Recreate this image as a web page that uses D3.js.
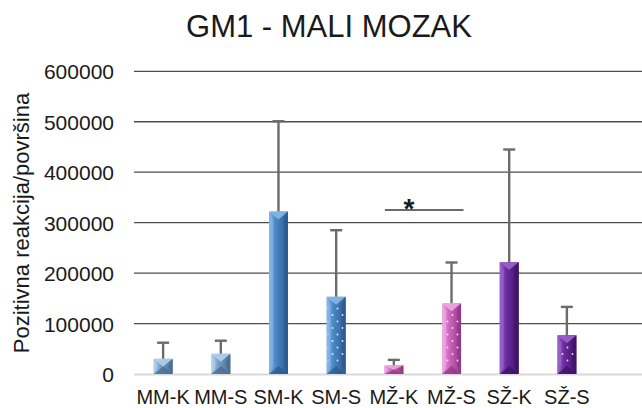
<!DOCTYPE html>
<html>
<head>
<meta charset="utf-8">
<script src="https://cdn.jsdelivr.net/npm/d3@7"></script>
<style>
  html, body { margin: 0; padding: 0; background: #fff; }
  svg { display: block; font-family: "Liberation Sans", Arial, sans-serif; }
</style>
</head>
<body>
<svg id="chart" width="642" height="408"></svg>
<script>
// ---- data ----
const categories = ["MM-K", "MM-S", "SM-K", "SM-S", "MŽ-K", "MŽ-S", "SŽ-K", "SŽ-S"];
const means      = [30000, 40000, 322000, 153000, 17000, 140000, 222000, 77000];
const errorTops  = [62000, 66000, 501000, 285000, 28000, 221000, 445000, 133000];
const groups     = ["MM", "MM", "SM", "SM", "MŽ", "MŽ", "SŽ", "SŽ"];
const dotted     = [false, true, false, true, false, true, false, true];
const yTicks     = [0, 100000, 200000, 300000, 400000, 500000, 600000];
const sigFrom = "MŽ-K", sigTo = "MŽ-S", sigLevel = 325000, sigLabel = "*";
const titleText = "GM1 - MALI MOZAK";
const yTitle = "Pozitivna reakcija/površina";

// ---- styles ----
const palette = {
  "MM": {base: "#76a0ca", light: "#b4d0ec", dark: "#4a6d93"},
  "SM": {base: "#4a87c7", light: "#86b7e6", dark: "#2b5c92"},
  "MŽ": {base: "#d068c0", light: "#eeaae3", dark: "#933a86"},
  "SŽ": {base: "#6a2a9e", light: "#9a62cc", dark: "#3f1466"}
};

const svg = d3.select("#chart");
const defs = svg.append("defs");

const pat = defs.append("pattern").attr("id", "dots")
  .attr("patternUnits", "userSpaceOnUse").attr("width", 10).attr("height", 13);
pat.append("circle").attr("cx", 2.5).attr("cy", 3).attr("r", 0.9).attr("fill", "#fff").attr("opacity", 0.85);
pat.append("circle").attr("cx", 7.5).attr("cy", 9.5).attr("r", 0.9).attr("fill", "#fff").attr("opacity", 0.85);

Object.entries(palette).forEach(([k, c], i) => {
  const g = defs.append("linearGradient").attr("id", "grad" + i)
    .attr("x1", "0").attr("x2", "1").attr("y1", "0").attr("y2", "0");
  g.append("stop").attr("offset", "0").attr("stop-color", c.light);
  g.append("stop").attr("offset", "0.35").attr("stop-color", c.base);
  g.append("stop").attr("offset", "1").attr("stop-color", c.dark);
  c.grad = "url(#grad" + i + ")";
});

const x = d3.scaleBand().domain(categories).range([134, 596])
  .paddingInner(0.67).paddingOuter(0.34);
const y = d3.scaleLinear().domain([0, 600000]).range([374, 71.3]);
const gridRight = 642;

// title
svg.append("text").attr("x", 329).attr("y", 37).attr("text-anchor", "middle")
  .attr("font-size", 31).attr("fill", "#1a1a1a").text(titleText);

// y axis title
svg.append("text").attr("transform", "translate(29,223) rotate(-90)")
  .attr("text-anchor", "middle").attr("font-size", 22).attr("fill", "#1a1a1a").text(yTitle);

// gridlines
svg.append("g").selectAll("line").data(yTicks.filter(d => d > 0)).join("line")
  .attr("x1", 134).attr("x2", gridRight)
  .attr("y1", d => y(d)).attr("y2", d => y(d))
  .attr("stroke", "#4d4d4d").attr("stroke-width", 1.3);

// y tick labels via axis
const yAxis = svg.append("g").attr("transform", "translate(114,0)")
  .call(d3.axisLeft(y).tickValues(yTicks).tickSize(0).tickPadding(0).tickFormat(d3.format("d")));
yAxis.select(".domain").remove();
yAxis.selectAll("text").attr("font-size", 21).attr("fill", "#1a1a1a")
  .attr("font-family", "'Liberation Sans', Arial, sans-serif").attr("dy", "0.36em");

// baseline
svg.append("line").attr("x1", 134).attr("x2", gridRight)
  .attr("y1", y(0) + 0.5).attr("y2", y(0) + 0.5)
  .attr("stroke", "#d9d9d9").attr("stroke-width", 2);

// error bars (behind bars)
const data = categories.map((c, i) => ({c, v: means[i], e: errorTops[i], g: groups[i], dot: dotted[i]}));
const eb = svg.append("g");
data.forEach(d => {
  const cx = x(d.c) + x.bandwidth() / 2;
  eb.append("line").attr("x1", cx).attr("x2", cx).attr("y1", y(d.v)).attr("y2", y(d.e))
    .attr("stroke", "#6b6b6b").attr("stroke-width", 2.4);
  eb.append("line").attr("x1", cx - 6).attr("x2", cx + 6).attr("y1", y(d.e)).attr("y2", y(d.e))
    .attr("stroke", "#6b6b6b").attr("stroke-width", 2.4);
});

// bars with bevel
const bars = svg.append("g");
data.forEach(d => {
  const c = palette[d.g];
  const x0 = x(d.c), x1 = x0 + x.bandwidth(), xc = (x0 + x1) / 2;
  const y0 = y(d.v), y1 = y(0);
  const h = y1 - y0;
  const t = Math.min(8, h / 2), b = Math.min(4, x.bandwidth() / 4);
  const g = bars.append("g");
  g.append("rect").attr("x", x0).attr("y", y0).attr("width", x1 - x0).attr("height", h).attr("fill", c.grad);
  const poly = (pts, fill, op) => g.append("polygon")
    .attr("points", pts.map(p => p.join(",")).join(" ")).attr("fill", fill).attr("opacity", op);
  poly([[x0, y0], [x0 + b, y0 + t], [x0 + b, y1 - t], [x0, y1]], c.light, 0.7);
  poly([[x1, y0], [x1 - b, y0 + t], [x1 - b, y1 - t], [x1, y1]], c.dark, 0.85);
  poly([[x0, y1], [x1, y1], [xc, y1 - t]], c.dark, 0.8);
  poly([[x0, y0], [x1, y0], [xc, y0 + t]], c.light, 0.9);
  if (d.dot) {
    g.append("rect").attr("x", x0 + 1).attr("y", y0 + t).attr("width", x1 - x0 - 2)
      .attr("height", Math.max(0, h - 2 * t)).attr("fill", "url(#dots)");
  }
});

// x labels
svg.append("g").selectAll("text").data(categories).join("text")
  .attr("x", d => x(d) + x.bandwidth() / 2).attr("y", 403.5)
  .attr("text-anchor", "middle").attr("font-size", 20).attr("fill", "#1a1a1a").text(d => d);

// significance
const sx0 = x(sigFrom) + x.bandwidth() / 2 - 9;
const sx1 = x(sigTo) + x.bandwidth() / 2 + 12;
svg.append("line").attr("x1", sx0).attr("x2", sx1).attr("y1", y(sigLevel)).attr("y2", y(sigLevel))
  .attr("stroke", "#3a3a3a").attr("stroke-width", 1.5);
svg.append("text").attr("x", x(sigFrom) + x.bandwidth() / 2 + 15).attr("y", y(sigLevel) + 8)
  .attr("text-anchor", "middle").attr("font-size", 28).attr("font-weight", "bold")
  .attr("fill", "#1a1a1a").text(sigLabel);
</script>
</body>
</html>
